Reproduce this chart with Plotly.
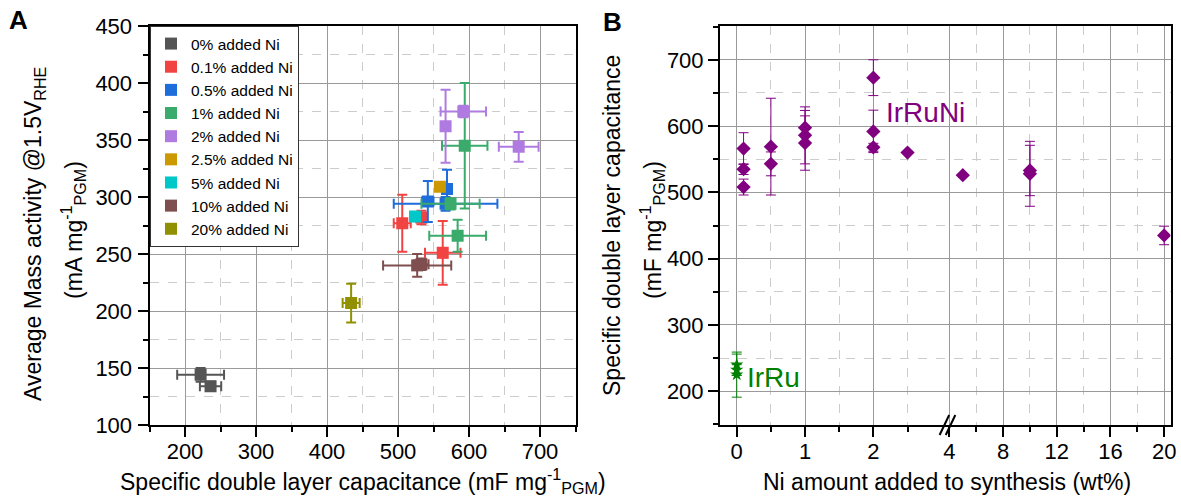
import plotly.graph_objects as go

W, H = 1181, 496
FONT = "Liberation Sans, Arial, sans-serif"

# ---------------- Panel A data (capacitance mF/mg, mass activity mA/mg) ----------------
legend_names = ["0% added Ni", "0.1% added Ni", "0.5% added Ni", "1% added Ni", "2% added Ni",
                "2.5% added Ni", "5% added Ni", "10% added Ni", "20% added Ni"]
series_colors = ["#555555", "#f24343", "#1d6ddb", "#3aab6b", "#b07be0",
                 "#cc9900", "#00c8c8", "#7f4f4f", "#909000"]

ni0_cap = [222, 236];            ni0_act = [144, 134]
ni0_cap_err = [33, 15];          ni0_act_err = [6, 4]
ni01_cap = [506, 533, 563];      ni01_act = [277, 282, 251]
ni01_cap_err = [12, 8, 25];      ni01_act_err = [25, 6, 28]
ni05_cap = [569, 542, 567];      ni05_act = [307, 296, 294]
ni05_cap_err = [6, 8, 73];       ni05_act_err = [17, 18, 6]
ni1_cap = [594, 574, 584];       ni1_act = [345, 294, 266]
ni1_cap_err = [32, 41, 40];      ni1_act_err = [55, 5, 14]
ni2_cap = [592, 567, 670];       ni2_act = [375, 362, 344]
ni2_cap_err = [32, 4, 28];       ni2_act_err = [5, 32, 13]
ni25_cap = [559];                ni25_act = [309]
ni25_cap_err = [0];              ni25_act_err = [0]
ni5_cap = [524];                 ni5_act = [283]
ni5_cap_err = [0];               ni5_act_err = [0]
ni10_cap = [527, 533];           ni10_act = [240, 241]
ni10_cap_err = [48, 10];         ni10_act_err = [10, 5]
ni20_cap = [434];                ni20_act = [207]
ni20_cap_err = [12];             ni20_act_err = [17]

# ---------------- Panel B data ----------------
irruni_ni = [0.1, 0.1, 0.1, 0.5, 0.5, 1, 1, 1, 2, 2, 2, 2.5, 5, 10, 10, 20]
irruni_cdl = [566, 535, 508, 569, 543, 597.6, 586, 574.4, 673, 592, 568, 560, 526, 533, 528, 435]
irruni_err = [24, 8, 12, 73, 18, 26, 43, 41, 27, 32, 6, 0, 0, 38, 49, 14]
irru_ni = [0, 0, 0]
irru_cdl = [240, 232, 225]
irru_err = [16, 8, 34]

b_tick_vals = [0, 1, 2, 4, 8, 12, 16, 20]
b_tick_text = ["0", "1", "2", "4", "8", "12", "16", "20"]
b_minor_vals = [0.5, 1.5, 2.5, 6, 10, 14, 18]


def brk(v):
    """broken x axis: linear 0-3, compressed scale from 4 onwards"""
    return v if v < 3.5 else 3.113 + (v - 4) * 0.1965


fig = go.Figure()

a_series = [
    (ni0_cap, ni0_act, ni0_cap_err, ni0_act_err),
    (ni01_cap, ni01_act, ni01_cap_err, ni01_act_err),
    (ni05_cap, ni05_act, ni05_cap_err, ni05_act_err),
    (ni1_cap, ni1_act, ni1_cap_err, ni1_act_err),
    (ni2_cap, ni2_act, ni2_cap_err, ni2_act_err),
    (ni25_cap, ni25_act, ni25_cap_err, ni25_act_err),
    (ni5_cap, ni5_act, ni5_cap_err, ni5_act_err),
    (ni10_cap, ni10_act, ni10_cap_err, ni10_act_err),
    (ni20_cap, ni20_act, ni20_cap_err, ni20_act_err),
]
for name, col, (xs, ys, ex, ey) in zip(legend_names, series_colors, a_series):
    fig.add_trace(go.Scatter(
        x=xs, y=ys, mode="markers", name=name,
        marker=dict(symbol="square", size=12, color=col, line=dict(width=0)),
        error_x=dict(type="data", array=ex, visible=True, color=col, thickness=2, width=5),
        error_y=dict(type="data", array=ey, visible=True, color=col, thickness=2, width=5),
        xaxis="x", yaxis="y", showlegend=True))

fig.add_trace(go.Scatter(
    x=[brk(v) for v in irruni_ni], y=irruni_cdl, mode="markers", name="IrRuNi",
    marker=dict(symbol="diamond", size=11, color="#800080", line=dict(width=0)),
    error_y=dict(type="data", array=irruni_err, visible=True, color="#800080", thickness=1, width=5),
    xaxis="x2", yaxis="y2", showlegend=False))
fig.add_trace(go.Scatter(
    x=[brk(v) for v in irru_ni], y=irru_cdl, mode="markers", name="IrRu",
    marker=dict(symbol="star", size=10, color="#008000", line=dict(width=0)),
    error_y=dict(type="data", array=irru_err, visible=True, color="#008000", thickness=1, width=5),
    xaxis="x2", yaxis="y2", showlegend=False))

ydom = [1 - 425 / H, 1 - 26 / H]
axis_common = dict(showline=True, linecolor="black", linewidth=2, mirror=True,
                   ticks="outside", ticklen=10, tickwidth=2, tickcolor="black",
                   showgrid=True, gridcolor="#9a9a9a", gridwidth=1, zeroline=False,
                   automargin=False,
                   tickfont=dict(size=22, color="black", family=FONT))
minor_common = dict(ticks="outside", ticklen=5, tickwidth=1.5, tickcolor="black",
                    showgrid=True, gridcolor="#cccccc", griddash="dash", gridwidth=1)

fig.update_layout(
    width=W, height=H, margin=dict(l=0, r=0, t=0, b=0, autoexpand=False),
    paper_bgcolor="white", plot_bgcolor="white",
    font=dict(family=FONT, color="black"),
    xaxis=dict(domain=[149.5 / W, 575.5 / W], range=[150, 750], dtick=100, tick0=200,
               ticklabelstandoff=-4,
               minor=dict(dtick=50, tick0=150, **minor_common), anchor="y", **axis_common),
    yaxis=dict(domain=ydom, range=[100, 450], dtick=50, tick0=100,
               ticklabelstandoff=1,
               minor=dict(dtick=25, tick0=100, **minor_common), anchor="x", **axis_common),
    xaxis2=dict(domain=[720 / W, 1170.5 / W], range=[-0.245, 6.35],
                tickmode="array", tickvals=[brk(v) for v in b_tick_vals], ticktext=b_tick_text,
                ticklabelstandoff=-4,
                minor=dict(tickmode="array", tickvals=[brk(v) for v in b_minor_vals], **minor_common),
                anchor="y2", **axis_common),
    yaxis2=dict(domain=ydom, range=[149, 751], dtick=100, tick0=200,
                ticklabelstandoff=0,
                minor=dict(dtick=50, tick0=150, **minor_common), anchor="x2", **axis_common),
    legend=dict(x=150 / W, y=1 - 26 / H, xanchor="left", yanchor="top",
                bgcolor="white", bordercolor="#333333", borderwidth=1,
                font=dict(size=15.5, family=FONT, color="black"),
                tracegroupgap=0, itemwidth=30),
)


def px_x(p):
    return p / W


def px_y(p):
    return 1 - p / H


ann = [
    dict(text="<b>A</b>", x=px_x(18), y=px_y(20), font=dict(size=26)),
    dict(text="<b>B</b>", x=px_x(612), y=px_y(22), font=dict(size=26)),
    dict(text="Average Mass activity @1.5V<sub>RHE</sub>", x=px_x(34), y=px_y(234),
         textangle=-90, font=dict(size=23)),
    dict(text="(mA mg<sup>-1</sup><sub>PGM</sub>)", x=px_x(73), y=px_y(230),
         textangle=-90, font=dict(size=23)),
    dict(text="Specific double layer capacitance (mF mg<sup>-1</sup><sub>PGM</sub>)",
         x=px_x(363), y=px_y(481), font=dict(size=23)),
    dict(text="Specific double layer capacitance", x=px_x(612), y=px_y(226),
         textangle=-90, font=dict(size=23)),
    dict(text="(mF mg<sup>-1</sup><sub>PGM</sub>)", x=px_x(652), y=px_y(230),
         textangle=-90, font=dict(size=23)),
    dict(text="Ni amount added to synthesis (wt%)", x=px_x(947), y=px_y(482),
         font=dict(size=23)),
]
for a in ann:
    a.update(xref="paper", yref="paper", showarrow=False, xanchor="center", yanchor="middle")
    a["font"].update(family=FONT, color="black")
    fig.add_annotation(**a)

fig.add_annotation(text="IrRuNi", x=brk(2.15), y=621, xref="x2", yref="y2", showarrow=False,
                   xanchor="left", yanchor="middle",
                   font=dict(size=28, family=FONT, color="#800080"))
fig.add_annotation(text="IrRu", x=brk(0.12), y=220, xref="x2", yref="y2", showarrow=False,
                   xanchor="left", yanchor="middle",
                   font=dict(size=28, family=FONT, color="#008000"))

# axis-break marks "//"
for off in (0.0, 0.09):
    fig.add_shape(type="line", xref="x2", yref="paper",
                  x0=2.97 + off, x1=3.11 + off, y0=px_y(435), y1=px_y(415),
                  line=dict(color="black", width=2))

fig.write_html("out.html")
